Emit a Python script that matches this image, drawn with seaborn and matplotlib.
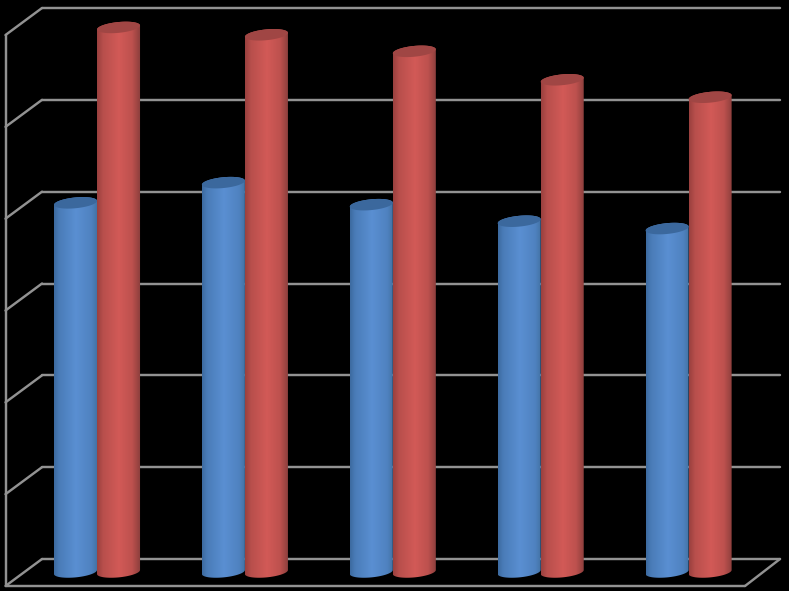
import numpy as np
import pandas as pd
import matplotlib
matplotlib.use('Agg')
import matplotlib.pyplot as plt
import seaborn as sns
from matplotlib.colors import LinearSegmentedColormap
from matplotlib.path import Path
from matplotlib.patches import PathPatch

# chart values
categories = ['1', '2', '3', '4', '5']
blue_values = [4.02, 4.24, 4.00, 3.82, 3.74]
red_values = [5.93, 5.85, 5.67, 5.36, 5.17]
grid_values = [0, 1, 2, 3, 4, 5, 6]

# picture layout in pixels
W, H = 789, 591
CAT0_PX, CAT_STEP_PX = 97.0, 147.9
BASE_PX, UNIT_PX = 572.0, 91.83

def px_x(p):
    return (p - CAT0_PX) / CAT_STEP_PX

def px_dy(p):
    return p / UNIT_PX

sns.set_style('white')
fig = plt.figure(figsize=(W / 100, H / 100), dpi=100, facecolor='black')
ax = fig.add_axes([0, 0, 1, 1], facecolor='black')

df = pd.DataFrame({
    'category': categories * 2,
    'value': blue_values + red_values,
    'series': ['blue'] * len(categories) + ['red'] * len(categories),
})
sns.barplot(data=df, x='category', y='value', hue='series',
            palette={'blue': '#4f81bd', 'red': '#c0504d'},
            width=0.582, gap=0, legend=False, ax=ax, saturation=1)

ax.set_xlim(px_x(0), px_x(W))
ax.set_ylim((BASE_PX - H) / UNIT_PX, BASE_PX / UNIT_PX)
ax.set_axis_off()

# walls and floor of the 3d box
line_kw = dict(color='#929292', lw=1.75, zorder=0.5, solid_capstyle='round')
back_offset = px_dy(BASE_PX - 559)
front_offset = px_dy(BASE_PX - 586)
back_l, back_r = px_x(42), px_x(780)
front_l, front_r = px_x(5.5), px_x(745)
for v in grid_values:
    ax.plot([back_l, back_r], [v + back_offset] * 2, **line_kw)
    ax.plot([front_l, back_l], [v + front_offset, v + back_offset], **line_kw)
ax.plot([front_l, front_l], [front_offset, grid_values[-1] + front_offset], **line_kw)
ax.plot([front_l, front_r], [front_offset, front_offset], **line_kw)
ax.plot([front_r, back_r], [front_offset, back_offset], **line_kw)

# cylinder shading
blue_cmap = LinearSegmentedColormap.from_list('b', [
    (0.0, '#3c6a9f'), (0.12, '#4a7cb8'), (0.5, '#5a8fd2'), (0.85, '#4f82c0'), (1.0, '#41709f')])
red_cmap = LinearSegmentedColormap.from_list('r', [
    (0.0, '#99403e'), (0.14, '#b84f4c'), (0.5, '#d25a57'), (0.8, '#bd514e'), (1.0, '#873d3b')])
caps = {'blue': '#3b689d', 'red': '#a04644'}
gradient = np.linspace(0, 1, 256).reshape(1, -1)

half_h = px_dy(5.4)
tilt = px_dy(2.0)

def rim(x0, x1, y, t):
    cx, a = (x0 + x1) / 2, (x1 - x0) / 2
    return cx + a * np.cos(t), y + half_h * np.sin(t) + tilt * np.cos(t)

n = len(categories)
for i, bar in enumerate(ax.patches[:2 * n]):
    name = 'blue' if i < n else 'red'
    z = 2 if i < n else 3
    x0, x1 = bar.get_x(), bar.get_x() + bar.get_width()
    top = bar.get_height()

    xb, yb = rim(x0, x1, 0, np.linspace(np.pi, 2 * np.pi, 60))
    xt, yt = rim(x0, x1, top, np.linspace(0, np.pi, 60))
    outline = np.vstack([np.column_stack([xb, yb]), np.column_stack([xt, yt])])
    outline = np.vstack([outline, outline[0]])
    body = Path(outline, closed=True)

    im = ax.imshow(gradient, extent=[x0, x1, -half_h * 2, top + half_h * 2],
                   cmap=blue_cmap if name == 'blue' else red_cmap,
                   aspect='auto', zorder=z, interpolation='bilinear')
    im.set_clip_path(body, transform=ax.transData)
    bar.set_visible(False)

    xc, yc = rim(x0, x1, top, np.linspace(0, 2 * np.pi, 80))
    ax.add_patch(PathPatch(Path(np.column_stack([xc, yc]), closed=True),
                           facecolor=caps[name], edgecolor='none', zorder=z + 0.5))

# imshow resets limits
ax.set_xlim(px_x(0), px_x(W))
ax.set_ylim((BASE_PX - H) / UNIT_PX, BASE_PX / UNIT_PX)

fig.savefig('out.png', dpi=100, facecolor='black')
